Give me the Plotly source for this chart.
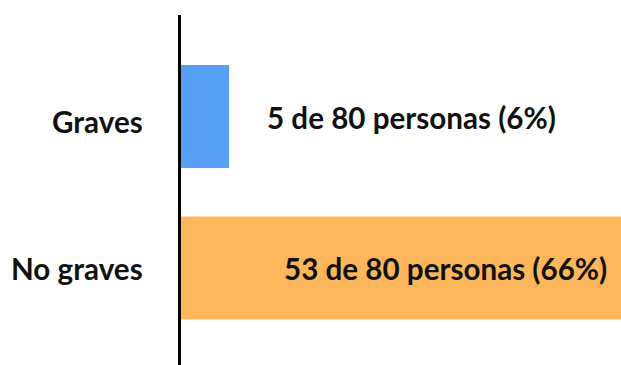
import plotly.graph_objects as go

categories = ["Graves", "No graves"]
counts = [5, 53]
total = 80
percent_labels = ["6%", "66%"]
colors = ["#559FF5", "#FDB75A"]

labels = [f"{c} de {total} personas ({p})" for c, p in zip(counts, percent_labels)]

# styling: label placement
label_x = [0.191, 0.2295]
label_shift = [-1, 0]
cat_shift = [-5, 0]

FONT = "Lato"
FS = 29.6

fig = go.Figure()
fig.add_trace(go.Bar(
    y=categories, x=counts, orientation="h",
    marker=dict(color=colors, line=dict(width=0)),
    width=0.68, hoverinfo="skip",
))

for cat, lab, lx, ls, cs in zip(categories, labels, label_x, label_shift, cat_shift):
    fig.add_annotation(
        x=lx, xref="paper", y=cat, yref="y", text=f"<b>{lab}</b>",
        showarrow=False, xanchor="left", yanchor="middle", yshift=ls,
        font=dict(family=FONT, size=FS, color="#111111"),
    )
    fig.add_annotation(
        x=-36 / 440, xref="paper", y=cat, yref="y", text=f"<b>{cat}</b>",
        showarrow=False, xanchor="right", yanchor="middle", yshift=cs,
        font=dict(family=FONT, size=FS, color="#111111"),
    )

fig.update_layout(
    template="none",
    width=621, height=365,
    margin=dict(l=181, r=0, t=15, b=0, pad=0),
    paper_bgcolor="white", plot_bgcolor="white",
    showlegend=False,
    hovermode=False,
    xaxis=dict(range=[0, 45.8], visible=False, showgrid=False, zeroline=False,
               automargin=False),
    yaxis=dict(
        range=[1.64, -0.67], type="category",
        showline=True, linecolor="black", linewidth=3,
        ticks="", showticklabels=False, automargin=False,
        showgrid=False, zeroline=False,
    ),
)

fig.write_html(
    "out.html",
    config={"displayModeBar": False, "staticPlot": True},
    post_script="document.body.style.margin='0';document.body.style.overflow='hidden';",
)
